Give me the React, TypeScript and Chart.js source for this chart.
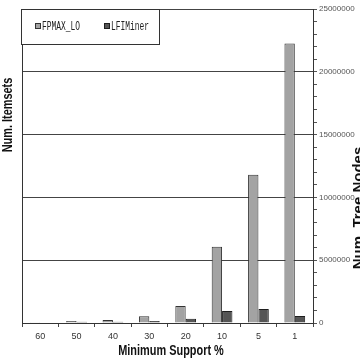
import { useEffect, useRef } from "react";
import { Chart, registerables } from "chart.js";

Chart.register(...registerables);

// Minimum support levels (%) along the category axis
const supportLevels = ["60", "50", "40", "30", "20", "10", "5", "1"];

// Tree node counts per algorithm
const fpmaxLO = [60000, 160000, 230000, 530000, 1350000, 6070000, 11800000, 22250000];
const lfiMiner = [40000, 100000, 100000, 160000, 340000, 960000, 1110000, 560000];

// Right-hand axis range and steps
const nodeAxisMax = 25000000;
const nodeMajorStep = 5000000;
const nodeMinorStep = 1000000;

const seriesNames = ["FPMAX_LO", "LFIMiner"];
const seriesFills = ["#a3a3a3", "#555555"];
const seriesEdges = ["#333333", "#1e1e1e"];

const xTitle = "Minimum Support %";
const leftTitle = "Num. Itemsets";
const rightTitle = "Num. Tree Nodes";

// Draws a string squeezed horizontally (along its own direction)
function drawSqueezed(
  ctx: CanvasRenderingContext2D,
  text: string,
  x: number,
  y: number,
  angle: number,
  sx: number
) {
  ctx.save();
  ctx.translate(x, y);
  ctx.rotate(angle);
  ctx.scale(sx, 1);
  ctx.fillText(text, 0, 0);
  ctx.restore();
}

const decorations = {
  id: "decorations",
  afterDraw(chart: Chart) {
    const ctx = chart.ctx;
    const area = chart.chartArea;

    // legend box in the upper-left corner of the plot
    const boxLeft = Math.round(area.left) - 0.5;
    const boxTop = Math.round(area.top) + 0.5;
    const boxRight = 159.5;
    const boxBottom = 44.5;
    ctx.save();
    ctx.fillStyle = "#ffffff";
    ctx.fillRect(boxLeft, boxTop, boxRight - boxLeft, boxBottom - boxTop);
    ctx.strokeStyle = "#333333";
    ctx.lineWidth = 1;
    ctx.strokeRect(boxLeft, boxTop, boxRight - boxLeft, boxBottom - boxTop);

    const items = chart.data.datasets;
    const itemX = [35, 104];
    ctx.font = "12px 'Liberation Mono', 'DejaVu Sans Mono', monospace";
    ctx.textBaseline = "alphabetic";
    ctx.textAlign = "left";
    items.forEach((ds: any, i: number) => {
      const x = itemX[i];
      ctx.fillStyle = ds.backgroundColor;
      ctx.fillRect(x + 0.5, 23.5, 5, 5);
      ctx.strokeStyle = ds.borderColor;
      ctx.strokeRect(x + 0.5, 23.5, 5, 5);
      ctx.fillStyle = "#222222";
      drawSqueezed(ctx, String(ds.label), x + 7, 30, 0, 0.66);
    });

    // axis titles
    ctx.fillStyle = "#111111";
    ctx.textAlign = "center";
    ctx.font = "bold 14px 'Liberation Sans', Arial, sans-serif";
    drawSqueezed(ctx, xTitle, 171, 355, 0, 0.78);
    drawSqueezed(ctx, leftTitle, 12, 115, -Math.PI / 2, 0.78);
    ctx.font = "bold 15px 'Liberation Sans', Arial, sans-serif";
    drawSqueezed(ctx, rightTitle, 363, 208, -Math.PI / 2, 1);
    ctx.restore();
  },
};

export default function App() {
  const canvasRef = useRef<HTMLCanvasElement | null>(null);

  useEffect(() => {
    if (!canvasRef.current) return;
    const chart = new Chart(canvasRef.current, {
      type: "bar",
      data: {
        labels: supportLevels,
        datasets: [
          {
            label: seriesNames[0],
            data: fpmaxLO,
            backgroundColor: seriesFills[0],
            borderColor: seriesEdges[0],
            borderWidth: 1,
            yAxisID: "yR",
          },
          {
            label: seriesNames[1],
            data: lfiMiner,
            backgroundColor: seriesFills[1],
            borderColor: seriesEdges[1],
            borderWidth: 1,
            yAxisID: "yR",
          },
        ],
      },
      options: {
        animation: false,
        responsive: true,
        maintainAspectRatio: false,
        layout: { padding: { top: 9, left: 0, right: 0, bottom: 0 } },
        datasets: {
          bar: { categoryPercentage: 0.57, barPercentage: 1 },
        },
        plugins: {
          legend: { display: false },
          tooltip: { enabled: false },
          title: { display: false },
        },
        scales: {
          x: {
            position: "bottom",
            grid: {
              offset: true,
              drawOnChartArea: false,
              color: "#444444",
              tickLength: 4,
            },
            border: { display: true, color: "#333333" },
            ticks: {
              font: { size: 9, family: "'Liberation Sans', Arial, sans-serif" },
              color: "#333333",
              padding: 4,
              maxRotation: 0,
            },
            afterFit: (s: any) => {
              s.height = 37;
            },
          },
          yL: {
            type: "linear",
            position: "left",
            min: 0,
            max: nodeAxisMax,
            grid: { drawOnChartArea: false, drawTicks: false, color: "#333333" },
            border: { display: true, color: "#333333" },
            ticks: { display: false },
            afterFit: (s: any) => {
              s.width = 22;
            },
          },
          yR: {
            type: "linear",
            position: "right",
            min: 0,
            max: nodeAxisMax,
            grid: {
              color: (c: any) =>
                c.tick && c.tick.value % nodeMajorStep === 0 ? "#444444" : "rgba(0,0,0,0)",
              tickColor: "#555555",
              tickLength: 4,
            },
            border: { display: true, color: "#333333" },
            ticks: {
              stepSize: nodeMinorStep,
              autoSkip: false,
              padding: 2,
              color: "#555555",
              font: { size: 8, family: "'Liberation Sans', Arial, sans-serif" },
              callback: (v: any) => (Number(v) % nodeMajorStep === 0 ? String(v) : ""),
            },
            afterFit: (s: any) => {
              s.width = 47;
            },
          },
        },
      },
      plugins: [decorations],
    });
    return () => chart.destroy();
  }, []);

  return (
    <div
      style={{
        position: "fixed",
        left: 0,
        top: 0,
        width: 360,
        height: 360,
        background: "#ffffff",
      }}
    >
      <canvas ref={canvasRef} />
    </div>
  );
}
